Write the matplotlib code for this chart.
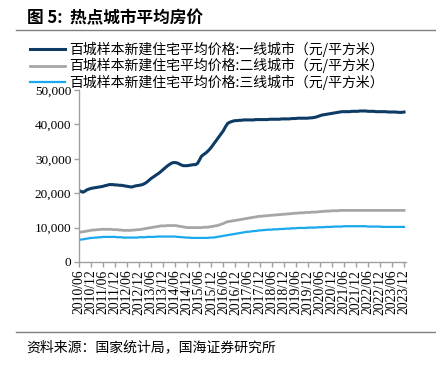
import numpy as np
import matplotlib
matplotlib.use("Agg")
import matplotlib.pyplot as plt
from matplotlib.ticker import FuncFormatter

plt.rcParams['font.family'] = ['Noto Sans CJK SC', 'DejaVu Sans']

# monthly series, 2010/06 .. 2023/12, unit: thousand yuan / m2
tier1 = [20.8, 20.5, 20.3, 20.6, 21.0, 21.2, 21.4,
         21.5, 21.6, 21.7, 21.8, 21.9, 22.0, 22.2, 22.3, 22.5, 22.5, 22.5, 22.4,
         22.4, 22.3, 22.3, 22.2, 22.1, 22.0, 21.9, 21.8, 21.9, 22.1, 22.2, 22.3,
         22.4, 22.6, 22.9, 23.3, 23.8, 24.3, 24.7, 25.1, 25.5, 25.9, 26.4, 26.9,
         27.4, 27.9, 28.3, 28.7, 28.9, 28.9, 28.8, 28.5, 28.2, 28.0, 28.0, 28.0,
         28.1, 28.2, 28.3, 28.3, 28.6, 29.6, 30.7, 31.2, 31.6, 32.1, 32.7, 33.4,
         34.2, 35.0, 35.8, 36.6, 37.4, 38.2, 39.3, 40.2, 40.6, 40.8, 41.0, 41.1,
         41.1, 41.2, 41.2, 41.3, 41.3, 41.3, 41.3, 41.3, 41.3, 41.4, 41.4, 41.4,
         41.4, 41.4, 41.4, 41.4, 41.5, 41.5, 41.5, 41.5, 41.5, 41.5, 41.6, 41.6,
         41.6, 41.6, 41.6, 41.7, 41.7, 41.7, 41.8, 41.8, 41.8, 41.8, 41.8, 41.8,
         41.9, 41.9, 42.0, 42.1, 42.3, 42.5, 42.7, 42.8, 42.9, 43.0, 43.1, 43.2,
         43.3, 43.4, 43.5, 43.6, 43.7, 43.7, 43.7, 43.7, 43.7, 43.8, 43.8, 43.8,
         43.8, 43.9, 43.9, 43.9, 43.9, 43.8, 43.8, 43.8, 43.8, 43.7, 43.7, 43.7,
         43.7, 43.7, 43.7, 43.6, 43.6, 43.6, 43.6, 43.6, 43.5, 43.5, 43.5, 43.6]

tier2 = [8.7, 8.7, 8.8, 8.9, 9.0, 9.1, 9.2,
         9.3, 9.3, 9.4, 9.4, 9.5, 9.5, 9.5, 9.5, 9.5, 9.5, 9.4, 9.4,
         9.4, 9.3, 9.3, 9.2, 9.2, 9.2, 9.2, 9.2, 9.3, 9.3, 9.4, 9.4,
         9.5, 9.6, 9.7, 9.8, 9.9, 10.0, 10.1, 10.2, 10.3, 10.4, 10.5, 10.5,
         10.5, 10.6, 10.6, 10.6, 10.6, 10.6, 10.5, 10.4, 10.3, 10.2, 10.1, 10.0,
         10.0, 10.0, 10.0, 10.0, 10.0, 10.0, 10.0, 10.1, 10.1, 10.1, 10.2, 10.3,
         10.4, 10.5, 10.6, 10.8, 11.0, 11.2, 11.5, 11.7, 11.8, 11.9, 12.0, 12.1,
         12.2, 12.3, 12.4, 12.5, 12.6, 12.7, 12.8, 12.9, 13.0, 13.1, 13.2, 13.3,
         13.3, 13.4, 13.4, 13.5, 13.5, 13.6, 13.6, 13.7, 13.7, 13.8, 13.8, 13.9,
         13.9, 14.0, 14.0, 14.1, 14.1, 14.2, 14.2, 14.3, 14.3, 14.3, 14.4, 14.4,
         14.4, 14.5, 14.5, 14.5, 14.6, 14.6, 14.7, 14.7, 14.8, 14.8, 14.8, 14.9,
         14.9, 14.9, 14.9, 15.0, 15.0, 15.0, 15.0, 15.0, 15.0, 15.0, 15.0, 15.0,
         15.0, 15.0, 15.0, 15.0, 15.0, 15.0, 15.0, 15.0, 15.0, 15.0, 15.0, 15.0,
         15.0, 15.0, 15.0, 15.0, 15.0, 15.0, 15.0, 15.0, 15.0, 15.0, 15.0, 15.0]

tier3 = [6.5, 6.5, 6.6, 6.7, 6.8, 6.9, 7.0,
         7.0, 7.1, 7.1, 7.2, 7.2, 7.3, 7.3, 7.3, 7.3, 7.3, 7.3, 7.3,
         7.2, 7.2, 7.2, 7.1, 7.1, 7.1, 7.1, 7.1, 7.1, 7.1, 7.1, 7.2,
         7.2, 7.2, 7.2, 7.3, 7.3, 7.3, 7.3, 7.3, 7.4, 7.4, 7.4, 7.4,
         7.4, 7.4, 7.4, 7.4, 7.4, 7.4, 7.3, 7.3, 7.2, 7.2, 7.1, 7.1,
         7.1, 7.0, 7.0, 7.0, 7.0, 7.0, 7.0, 7.0, 7.0, 7.0, 7.1, 7.1,
         7.1, 7.2, 7.3, 7.4, 7.5, 7.6, 7.7, 7.8, 7.9, 8.0, 8.1, 8.2,
         8.3, 8.4, 8.5, 8.6, 8.7, 8.8, 8.8, 8.9, 9.0, 9.0, 9.1, 9.2,
         9.2, 9.3, 9.3, 9.4, 9.4, 9.4, 9.5, 9.5, 9.5, 9.6, 9.6, 9.6,
         9.7, 9.7, 9.7, 9.8, 9.8, 9.8, 9.9, 9.9, 9.9, 9.9, 9.9, 10.0,
         10.0, 10.0, 10.0, 10.0, 10.1, 10.1, 10.1, 10.1, 10.2, 10.2, 10.2, 10.2,
         10.3, 10.3, 10.3, 10.3, 10.3, 10.4, 10.4, 10.4, 10.4, 10.4, 10.4, 10.4,
         10.4, 10.4, 10.4, 10.4, 10.4, 10.3, 10.3, 10.3, 10.3, 10.3, 10.3, 10.3,
         10.2, 10.2, 10.2, 10.2, 10.2, 10.2, 10.2, 10.2, 10.2, 10.2, 10.2, 10.2]

months = [f"{2010 + (m + 5) // 12}/{(m + 5) % 12 + 1:02d}" for m in range(len(tier1))]
tick_labels = months[::6]

labels = ['百城样本新建住宅平均价格:一线城市（元/平方米）',
          '百城样本新建住宅平均价格:二线城市（元/平方米）',
          '百城样本新建住宅平均价格:三线城市（元/平方米）']
colors = ['#0D3B66', '#A6A6A6', '#1AA8EE']

W, H = 436, 365
fig = plt.figure(figsize=(W / 100, H / 100), dpi=100)
ax = fig.add_axes([79 / W, 1 - 262 / H, (406 - 79) / W, (262 - 90) / H])

x = np.arange(len(tier1))
for vals, c, lab, lw in zip([tier1, tier2, tier3], colors, labels, [2.2, 2.0, 1.6]):
    ax.plot(x, np.array(vals) * 1000, color=c, lw=lw, label=lab)

ax.set_xlim(0, len(tier1))
ax.set_ylim(0, 50000)
ax.set_yticks(range(0, 50001, 10000))
ax.yaxis.set_major_formatter(FuncFormatter(lambda v, p: f"{int(v):,}"))
ax.set_xticks(x[::6])
ax.set_xticklabels(tick_labels, rotation=90, family='Liberation Serif', fontsize=9.8)
for t in ax.get_yticklabels():
    t.set_family('Liberation Serif')
    t.set_fontsize(9.5)

for s in ['top', 'right']:
    ax.spines[s].set_visible(False)
for s in ['left', 'bottom']:
    ax.spines[s].set_color('#A0A0A0')
    ax.spines[s].set_linewidth(1.0)
ax.tick_params(axis='both', colors='#A0A0A0', labelcolor='black', length=3.5, width=1, pad=2)

fig.legend(loc='upper left', bbox_to_anchor=(30 / W, 1 - 42 / H), frameon=False,
           fontsize=10, handlelength=2.5, handletextpad=0.3, labelspacing=0.08,
           borderpad=0, borderaxespad=0)

fig.text(27 / W, 1 - 18 / H, '图 5:  热点城市平均房价', fontsize=12, fontweight='bold',
         va='center', ha='left')
fig.add_artist(plt.Line2D([16 / W, 1], [1 - 30 / H] * 2, color='#808080', lw=1))
fig.add_artist(plt.Line2D([16 / W, 1], [1 - 332 / H] * 2, color='#808080', lw=1))
fig.text(26 / W, 1 - 347 / H, '资料来源：国家统计局，国海证券研究所', fontsize=10,
         va='center', ha='left')

fig.savefig('out.png', dpi=100)
